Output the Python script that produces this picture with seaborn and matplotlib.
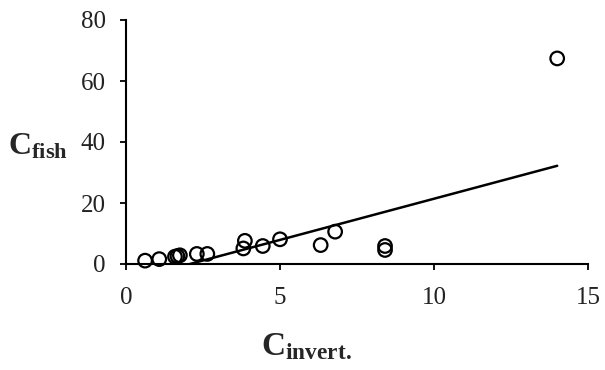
import numpy as np
import pandas as pd
import matplotlib
matplotlib.use("Agg")
import matplotlib.pyplot as plt
import seaborn as sns

# podaci ocitani sa grafika
c_invert = [0.62, 1.08, 1.59, 1.67, 1.75, 2.30, 2.64, 3.81, 3.86, 4.44,
            5.00, 6.32, 6.79, 8.41, 8.41, 14.0]
c_fish = [1.1, 1.6, 2.4, 2.6, 2.85, 3.3, 3.3, 5.1, 7.6, 5.9,
          8.1, 6.2, 10.6, 5.9, 4.6, 67.4]

# linija trenda (ocitana)
fit_slope = 2.7
fit_intercept = -5.6

x_ticks = [0, 5, 10, 15]
y_ticks = [0, 20, 40, 60, 80]

df = pd.DataFrame({"invert": c_invert, "fish": c_fish})
fit_x = np.array([min(c_invert), max(c_invert)])
fit_df = pd.DataFrame({"invert": fit_x, "fish": fit_slope * fit_x + fit_intercept})

sns.set_style("white")
plt.rcParams["font.family"] = ["Liberation Serif", "DejaVu Serif"]
plt.rcParams["mathtext.fontset"] = "custom"
plt.rcParams["mathtext.rm"] = "Liberation Serif"
plt.rcParams["mathtext.bf"] = "Liberation Serif:bold"

fig = plt.figure(figsize=(6.05, 3.7), dpi=100)
ax = fig.add_axes([126 / 605, 1 - 264 / 370, 462 / 605, 244 / 370])

sns.lineplot(data=fit_df, x="invert", y="fish", color="black", linewidth=1.8, ax=ax)
sns.scatterplot(data=df, x="invert", y="fish", s=95, facecolor="none",
                edgecolor="black", linewidth=1.6, clip_on=False, zorder=3, ax=ax)

ax.set_xlim(0, 15)
ax.set_ylim(0, 80)
ax.set_xticks(x_ticks)
ax.set_yticks(y_ticks)
ax.tick_params(axis="both", direction="out", length=4.5, width=1.3, color="black",
               labelsize=18, labelcolor="#222222", left=True, bottom=True)
ax.tick_params(axis="x", pad=12)
ax.tick_params(axis="y", pad=10)

sns.despine(ax=ax)
for s in ["left", "bottom"]:
    ax.spines[s].set_color("black")
    ax.spines[s].set_linewidth(1.5)

ax.set_xlabel(r"$\mathbf{C_{invert.}}$", fontsize=24)
ax.set_ylabel(r"$\mathbf{C_{fish}}$", fontsize=23, rotation=0)
ax.xaxis.set_label_coords(0.39, -0.275)
ax.yaxis.set_label_coords(-0.19, 0.42)

fig.savefig("out.png", dpi=100)
